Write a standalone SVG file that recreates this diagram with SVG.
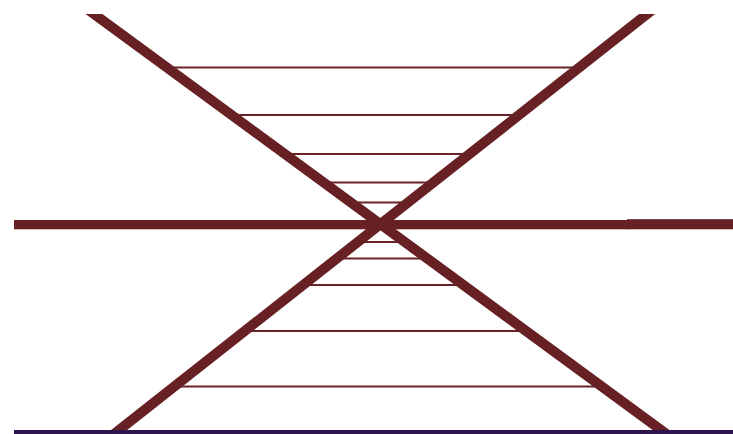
<svg xmlns="http://www.w3.org/2000/svg" width="733" height="434" viewBox="0 0 733 434">
  <style>
    .rung { stroke: #6a2226; stroke-width: 2.2; }
    .diag { stroke: #672024; stroke-width: 10; stroke-linecap: butt; }
    .thick { fill: #672024; }
  </style>
  <defs>
    <clipPath id="area">
      <rect x="0" y="14" width="733" height="420"/>
    </clipPath>
  </defs>
  <rect width="733" height="434" fill="#ffffff"/>
  <g id="rungs">
    <line class="rung" x1="167" y1="67.5" x2="580" y2="67.5"/>
    <line class="rung" x1="233" y1="115" x2="519" y2="115"/>
    <line class="rung" x1="287" y1="154" x2="470" y2="154"/>
    <line class="rung" x1="325" y1="182.5" x2="434" y2="182.5"/>
    <line class="rung" x1="352" y1="202.5" x2="409" y2="202.5"/>
    <line class="rung" x1="357" y1="242" x2="406" y2="242"/>
    <line class="rung" x1="336" y1="258.5" x2="429" y2="258.5"/>
    <line class="rung" x1="303" y1="285" x2="465" y2="285"/>
    <line class="rung" x1="244" y1="331" x2="530" y2="331"/>
    <line class="rung" x1="175" y1="386.5" x2="606" y2="386.5"/>
  </g>
  <g id="diagonals" clip-path="url(#area)">
    <line class="diag" x1="84.4" y1="7" x2="672" y2="438"/>
    <line class="diag" x1="656" y1="7" x2="109" y2="438"/>
  </g>
  <g id="horizontal">
    <rect class="thick" x="14" y="220" width="614" height="9.3"/>
    <rect class="thick" x="627" y="219.2" width="106" height="10.1"/>
  </g>
  <g id="baseline">
    <rect x="14" y="430" width="719" height="4" fill="#2d1650"/>
  </g>
</svg>
